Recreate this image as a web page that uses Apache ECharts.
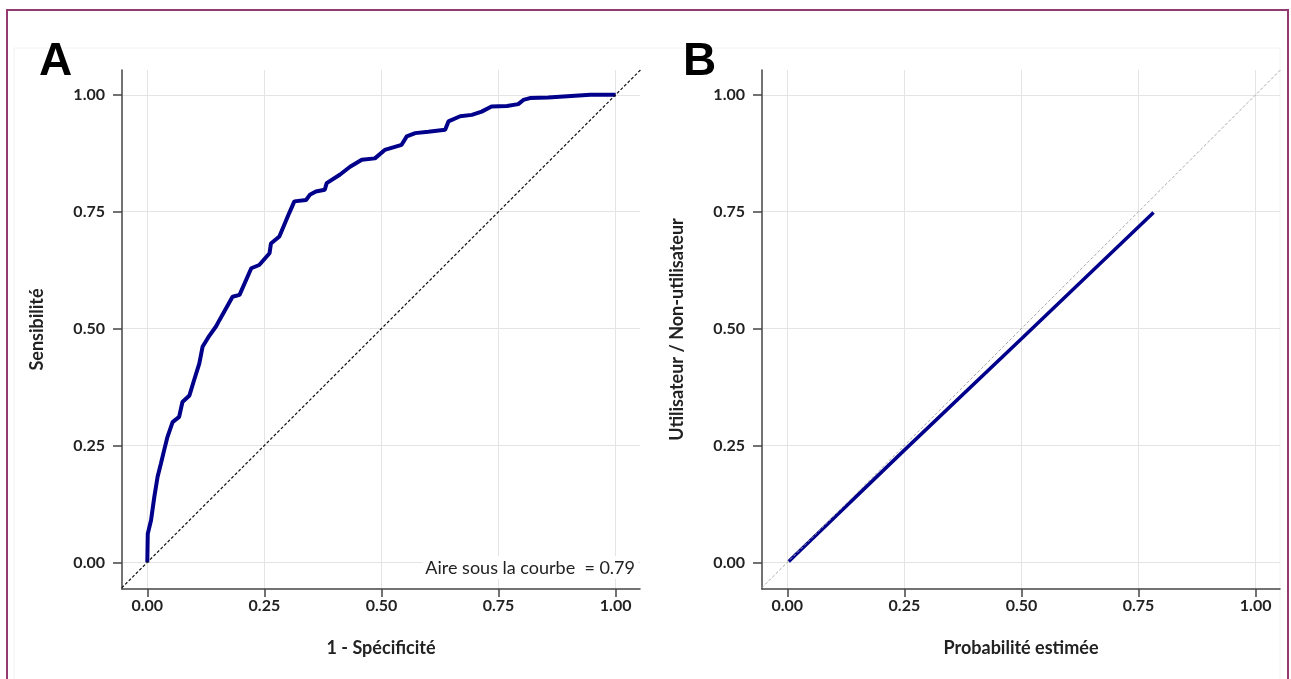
<!DOCTYPE html>
<html>
<head>
<meta charset="utf-8">
<script src="https://cdn.jsdelivr.net/npm/echarts@6/dist/echarts.min.js"></script>
<style>
  html, body { margin: 0; padding: 0; background: #fff; }
  #chart { width: 1291px; height: 679px; }
</style>
</head>
<body>
<div id="chart"></div>
<script>
// ---- Data ----
const tickValues = [0, 0.25, 0.5, 0.75, 1];

// Panel A: ROC curve (1 - specificity, sensitivity)
const rocFpr = [0, 0.001, 0.008, 0.015, 0.022, 0.029, 0.036, 0.043, 0.054, 0.068, 0.075, 0.09, 0.10, 0.111, 0.118, 0.132, 0.147, 0.154, 0.182, 0.197, 0.222, 0.239, 0.261, 0.264, 0.282, 0.303, 0.314, 0.339, 0.347, 0.36, 0.379, 0.383, 0.411, 0.433, 0.458, 0.486, 0.507, 0.543, 0.554, 0.572, 0.60, 0.636, 0.643, 0.668, 0.693, 0.714, 0.735, 0.768, 0.792, 0.803, 0.817, 0.856, 0.946, 1.0];
const rocTpr = [0, 0.061, 0.09, 0.14, 0.183, 0.211, 0.24, 0.268, 0.30, 0.311, 0.343, 0.357, 0.39, 0.425, 0.461, 0.484, 0.505, 0.518, 0.568, 0.572, 0.629, 0.636, 0.661, 0.682, 0.697, 0.747, 0.772, 0.775, 0.786, 0.793, 0.797, 0.811, 0.829, 0.846, 0.861, 0.864, 0.882, 0.893, 0.911, 0.918, 0.921, 0.925, 0.943, 0.954, 0.957, 0.964, 0.975, 0.976, 0.98, 0.989, 0.993, 0.994, 1.0, 1.0];

// Panel B: calibration line (estimated probability, observed ratio)
const calibProb = [0.003, 0.25, 0.5, 0.782];
const calibObs  = [0.002, 0.24, 0.478, 0.748];

// Reference diagonal y = x
const diagVals = [-0.1, 1.1];

const aucText = 'Aire sous la courbe  = 0.79';

// ---- Helpers ----
const zip = (a, b) => a.map((v, i) => [v, b[i]]);
const FONT = 'Lato';
const XMIN = -0.054, XMAX = 1.052, YMIN = -0.057, YMAX = 1.053;

function xAxisCfg(gridIndex, name) {
  return {
    type: 'value', gridIndex, min: XMIN, max: XMAX,
    name, nameLocation: 'middle', nameGap: 50,
    nameTextStyle: { fontFamily: FONT, fontWeight: 'bold', fontSize: 18, color: '#222' },
    axisLine: { show: true, onZero: false, lineStyle: { color: '#444', width: 1.5 } },
    axisTick: { show: true, length: 8, customValues: tickValues, lineStyle: { color: '#444', width: 1.5 } },
    axisLabel: { customValues: tickValues, margin: 9, fontFamily: FONT, fontWeight: 'bold', fontSize: 16, color: '#222',
      formatter: v => v.toFixed(2) },
    splitLine: { show: true, lineStyle: { color: '#e4e4e4', width: 1 } }
  };
}
function yAxisCfg(gridIndex, name) {
  return {
    type: 'value', gridIndex, min: YMIN, max: YMAX,
    name, nameLocation: 'middle', nameGap: 76, nameRotate: 90,
    nameTextStyle: { fontFamily: FONT, fontWeight: 'bold', fontSize: 18, color: '#222' },
    axisLine: { show: true, onZero: false, lineStyle: { color: '#444', width: 1.5 } },
    axisTick: { show: true, length: 9, customValues: tickValues, lineStyle: { color: '#444', width: 1.5 } },
    axisLabel: { customValues: tickValues, margin: 17, fontFamily: FONT, fontWeight: 'bold', fontSize: 16, color: '#222',
      formatter: v => v.toFixed(2) },
    splitLine: { show: true, lineStyle: { color: '#e4e4e4', width: 1 } }
  };
}

const chart = echarts.init(document.getElementById('chart'), null, { renderer: 'canvas' });
chart.setOption({
  backgroundColor: '#fff',
  animation: false,
  grid: [
    { left: 122, top: 70, width: 518, height: 519 },
    { left: 762, top: 70, width: 518, height: 519 }
  ],
  xAxis: [xAxisCfg(0, '1 - Spécificité'), xAxisCfg(1, 'Probabilité estimée')],
  yAxis: [yAxisCfg(0, 'Sensibilité'), yAxisCfg(1, 'Utilisateur / Non-utilisateur')],
  graphic: [
    { type: 'rect', shape: { x: 7, y: 10, width: 1281, height: 700 }, style: { fill: 'none', stroke: '#933b70', lineWidth: 2 }, z: 100 },
    { type: 'rect', shape: { x: 14, y: 48, width: 1266, height: 700 }, style: { fill: 'none', stroke: '#f2f2f2', lineWidth: 1 }, z: -1 },
    { type: 'text', left: 39, top: 39, style: { text: 'A', font: 'bold 46px "Liberation Sans", Arial, sans-serif', fill: '#000' } },
    { type: 'text', left: 683, top: 39, style: { text: 'B', font: 'bold 46px "Liberation Sans", Arial, sans-serif', fill: '#000' } },
    { type: 'text', right: 1291 - 638, top: 556, z: 50,
      style: { text: aucText, font: '18px Lato', fill: '#222', backgroundColor: '#fff', padding: [3, 3, 2, 3] } }
  ],
  series: [
    { type: 'line', xAxisIndex: 0, yAxisIndex: 0, data: zip(rocFpr, rocTpr), showSymbol: false, clip: true,
      lineStyle: { color: '#00008B', width: 4 }, z: 3 },
    { type: 'line', xAxisIndex: 0, yAxisIndex: 0, data: zip(diagVals, diagVals), showSymbol: false, clip: true,
      lineStyle: { color: '#111', width: 1.2, type: [3, 2] }, z: 4 },
    { type: 'line', xAxisIndex: 1, yAxisIndex: 1, data: zip(calibProb, calibObs), showSymbol: false, clip: true,
      lineStyle: { color: '#00008B', width: 3.5 }, z: 3 },
    { type: 'line', xAxisIndex: 1, yAxisIndex: 1, data: zip(diagVals, diagVals), showSymbol: false, clip: true,
      lineStyle: { color: '#a8a8a8', width: 1, type: [3, 2] }, z: 4 }
  ]
});
</script>
</body>
</html>
